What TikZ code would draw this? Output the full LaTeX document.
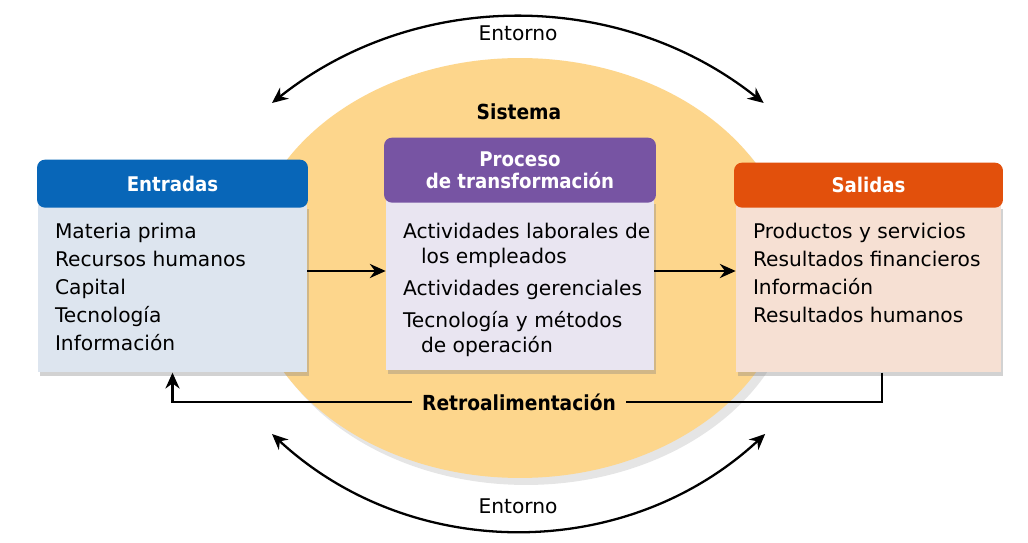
\documentclass[tikz,border=0pt]{standalone}
\usepackage{fontspec}
\setmainfont{DejaVu Sans}
\newfontfamily\headfont{DejaVu Sans Condensed}
\usetikzlibrary{shapes.geometric,positioning,arrows.meta,shadows}

\definecolor{sysYellow}{RGB}{253,214,140}
\definecolor{entBlue}{RGB}{8,102,184}
\definecolor{entLight}{RGB}{221,229,239}
\definecolor{procPurple}{RGB}{119,84,163}
\definecolor{procLight}{RGB}{233,229,241}
\definecolor{salOrange}{RGB}{226,80,12}
\definecolor{salLight}{RGB}{246,224,211}

\begin{document}
\begin{tikzpicture}[
x=0.02cm,y=-0.02cm,
>={Stealth[length=9pt,width=8pt]},
font=\fontsize{11.5}{15.9}\selectfont,
head/.style={
rectangle,
rounded corners=.16cm,
text=white,
font=\headfont\bfseries\fontsize{11.5}{12.5}\selectfont,
align=center},
body/.style={
rectangle,
anchor=north,
inner xsep=.34cm,
inner ysep=.36cm,
drop shadow={shadow xshift=.04cm,shadow yshift=-.08cm,opacity=.35}},
label/.style={font=\headfont\bfseries\fontsize{11.8}{14}\selectfont},
flow/.style={->,line width=1.6pt},
env/.style={<->,line width=1.3pt}
]

\useasboundingbox (0,0) rectangle (1028,543);
\fill[white] (0,0) rectangle (1028,543);

\node[ellipse,fill=sysYellow,minimum width=10.88cm,minimum height=8.4cm,
drop shadow={shadow xshift=.12cm,shadow yshift=-.14cm,opacity=.2}] (sis) at (520,268) {};
\node[label] (sisL) at (519,112) {Sistema};

\coordinate (envTL) at (272,103);
\coordinate (envBL) at (272,434);
\draw[env] (envTL) arc[start angle=128.5,end angle=51.5,radius=7.9cm];
\draw[env] (envBL) arc[start angle=227.2,end angle=312.8,radius=7.26cm];
\node (envTLbl) at (518,33) {Entorno};
\node (envBLbl) at (518,506) {Entorno};

\node[body,fill=entLight] (entB) at (172.5,205) {\parbox[t][2.62cm][t]{4.7cm}{\raggedright
Materia prima\\Recursos humanos\\Capital\\Tecnología\\Información}};
\node[body,fill=procLight,inner ysep=.46cm] (procB) at (520,200) {\parbox[t][2.48cm][t]{4.68cm}{\fontsize{11.5}{14.2}\selectfont
\mbox{Actividades laborales de}\\\mbox{\hspace*{.36cm}los empleados}\\[4pt]\mbox{Actividades gerenciales}\\[4pt]\mbox{Tecnología y métodos}\\\mbox{\hspace*{.36cm}de operación}}};
\node[body,fill=salLight] (salB) at (868.5,205) {\parbox[t][2.62cm][t]{4.62cm}{\raggedright
Productos y servicios\\Resultados financieros\\Información\\Resultados humanos}};

\node[head,fill=entBlue,minimum width=5.42cm,minimum height=.96cm,above=-.06cm of entB] (entH) {Entradas};
\node[head,fill=procPurple,minimum width=5.44cm,minimum height=1.3cm,above=-.06cm of procB] (procH) {Proceso\\de transformación};
\node[head,fill=salOrange,minimum width=5.38cm,minimum height=.9cm,above=-.06cm of salB] (salH) {Salidas};

\coordinate (flowY) at (0,271);
\draw[flow] (entB.east |- flowY) -- (procB.west |- flowY);
\draw[flow] (procB.east |- flowY) -- (salB.west |- flowY);

\node[label,inner xsep=.2cm] (retro) at (519,402) {Retroalimentación};
\draw[line width=1.6pt] ([xshift=.27cm]salB.south) |- (retro.east);
\draw[flow] (retro.west) -| (entB.south);

\end{tikzpicture}
\end{document}
